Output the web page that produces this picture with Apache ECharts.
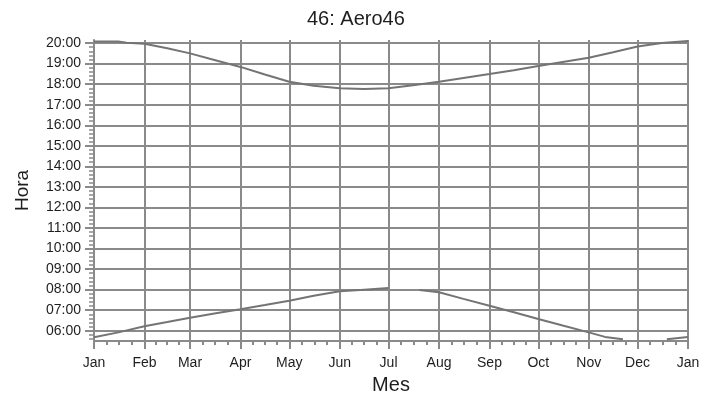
<!DOCTYPE html>
<html><head><meta charset="utf-8">
<script src="https://cdn.jsdelivr.net/npm/echarts@6/dist/echarts.min.js"></script>
<style>html,body{margin:0;padding:0;background:#fff}#c{width:717px;height:400px}</style>
</head><body><div id="c"></div>
<script>
const chartTitle = '46: Aero46';
const xName = 'Mes';
const yName = 'Hora';
const monthNames = ['Jan','Feb','Mar','Apr','May','Jun','Jul','Aug','Sep','Oct','Nov','Dec','Jan'];
const monthStarts = [0,31,59,90,120,151,181,212,243,273,304,334,365];
const hourTicks = [6,7,8,9,10,11,12,13,14,15,16,17,18,19,20];

// upper curve (evening)
const upperDays  = [0, 15, 20, 31, 45, 59, 74, 90, 105, 120, 135, 151, 166, 181, 196, 212, 227, 243, 258, 273, 288, 304, 319, 334, 349, 365];
const upperHours = [20.08, 20.08, 20.02, 19.97, 19.75, 19.50, 19.18, 18.84, 18.47, 18.12, 17.92, 17.80, 17.77, 17.80, 17.95, 18.12, 18.30, 18.49, 18.68, 18.88, 19.08, 19.29, 19.55, 19.83, 20.00, 20.10];
// lower curve (morning); null = no line drawn
const lowerDays  = [0, 15, 31, 45, 59, 74, 90, 105, 120, 135, 151, 166, 181, 190, 200, 212, 227, 243, 258, 273, 288, 304, 314, 325, 340, 352, 365];
const lowerHours = [5.68, 5.92, 6.22, 6.42, 6.63, 6.84, 7.05, 7.25, 7.46, 7.70, 7.92, 8.00, 8.08, null, 7.98, 7.87, 7.55, 7.22, 6.90, 6.57, 6.25, 5.92, 5.70, 5.59, null, 5.59, 5.70];

const yMin = 5.5, yMax = 20.15;
const minorX = [];
for (let i = 0; i < monthStarts.length - 1; i++) {
  const a = monthStarts[i], b = monthStarts[i + 1];
  for (let k = 1; k < 4; k++) minorX.push(a + (b - a) * k / 4);
}
const minorY = [];
for (let h = 5; h <= 20; h++) {
  for (let k = 1; k < 5; k++) {
    const v = +(h + k * 0.2).toFixed(2);
    if (v > yMin && v < yMax) minorY.push(v);
  }
}

const font = 'Liberation Sans, Arial, Helvetica, sans-serif';
const gridColor = '#8a8a8a';
const lineColor = '#747474';
const textColor = '#1e1e1e';

const pairs = (xs, ys) => xs.map((d, i) => [d, ys[i]]);

const chart = echarts.init(document.getElementById('c'), null, {renderer: 'canvas'});
chart.setOption({
  animation: false,
  backgroundColor: '#ffffff',
  title: {
    text: chartTitle, left: 302, top: 4,
    textStyle: {fontFamily: font, fontSize: 20, fontWeight: 'normal', color: textColor}
  },
  grid: {left: 94, right: 29, top: 40, bottom: 57, containLabel: false},
  xAxis: [{
    type: 'value', min: 0, max: 365, position: 'bottom',
    name: xName, nameLocation: 'middle', nameGap: 34,
    nameTextStyle: {fontFamily: font, fontSize: 20, color: textColor},
    axisLine: {show: true, lineStyle: {color: gridColor, width: 2}},
    axisTick: {show: true, customValues: monthStarts, length: 8, lineStyle: {color: gridColor, width: 2}},
    axisLabel: {show: true, customValues: monthStarts, margin: 15, fontFamily: font, fontSize: 14, color: textColor,
      formatter: v => monthNames[monthStarts.indexOf(Math.round(v))] || ''},
    splitLine: {show: true, lineStyle: {color: gridColor, width: 2}}
  }, {
    type: 'value', min: 0, max: 365, position: 'bottom',
    axisLine: {show: false},
    axisTick: {show: true, customValues: minorX, length: 4, lineStyle: {color: gridColor, width: 2}},
    axisLabel: {show: false},
    splitLine: {show: false}
  }],
  yAxis: [{
    type: 'value', min: yMin, max: yMax, position: 'left',
    name: yName, nameLocation: 'middle', nameGap: 62, nameRotate: 90,
    nameTextStyle: {fontFamily: font, fontSize: 19, color: textColor},
    axisLine: {show: true, lineStyle: {color: gridColor, width: 2}},
    axisTick: {show: true, customValues: hourTicks, length: 9, lineStyle: {color: gridColor, width: 2}},
    axisLabel: {show: true, customValues: hourTicks, margin: 13, fontFamily: font, fontSize: 14, color: textColor,
      formatter: v => String(Math.round(v)).padStart(2, '0') + ':00'},
    splitLine: {show: true, lineStyle: {color: gridColor, width: 2}}
  }, {
    type: 'value', min: yMin, max: yMax, position: 'left',
    axisLine: {show: false},
    axisTick: {show: true, customValues: minorY, length: 5, lineStyle: {color: gridColor, width: 1.5}},
    axisLabel: {show: false},
    splitLine: {show: false}
  }],
  series: [{
    type: 'line', xAxisIndex: 0, yAxisIndex: 0, data: pairs(upperDays, upperHours),
    showSymbol: false, connectNulls: false, lineStyle: {color: lineColor, width: 2}, itemStyle: {color: lineColor}
  }, {
    type: 'line', xAxisIndex: 0, yAxisIndex: 0, data: pairs(lowerDays, lowerHours),
    showSymbol: false, connectNulls: false, lineStyle: {color: lineColor, width: 2}, itemStyle: {color: lineColor}
  }]
});
</script>
</body></html>
